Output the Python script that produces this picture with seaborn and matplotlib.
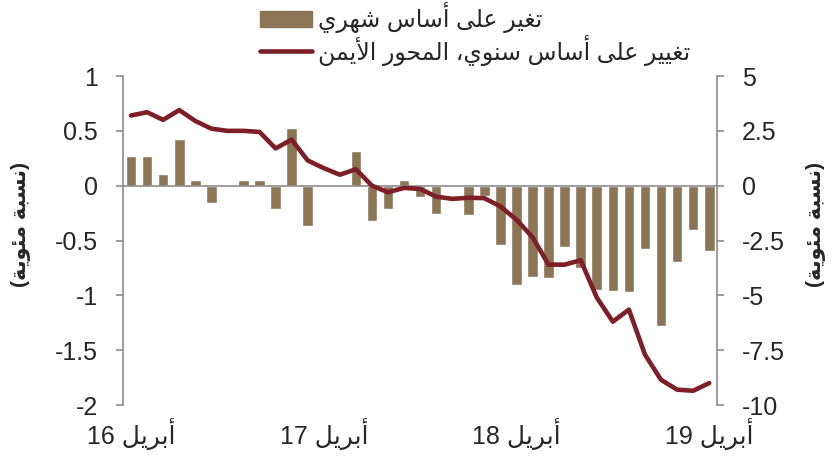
import re
import numpy as np
import pandas as pd
import seaborn as sns
import matplotlib.pyplot as plt
from matplotlib.patches import Patch
from matplotlib.lines import Line2D

# --- Data ---
months = pd.date_range("2016-04-01", "2019-04-01", freq="MS").strftime("%Y-%m").tolist()
mom_change = [0.27, 0.27, 0.11, 0.43, 0.05, -0.16, 0.0, 0.05, 0.05, -0.21,
              0.53, -0.37, 0.0, 0.0, 0.32, -0.32, -0.21, 0.05, -0.10, -0.26,
              0.0, -0.27, -0.09, -0.54, -0.91, -0.83, -0.84, -0.56, -0.75, -0.95,
              -0.96, -0.97, -0.58, -1.28, -0.70, -0.40, -0.60]
yoy_change = [3.2, 3.35, 3.0, 3.45, 2.95, 2.6, 2.5, 2.5, 2.45, 1.7,
              2.1, 1.15, 0.8, 0.5, 0.75, 0.0, -0.3, -0.1, -0.15, -0.5,
              -0.6, -0.55, -0.57, -0.95, -1.55, -2.35, -3.6, -3.6, -3.4, -5.1,
              -6.2, -5.65, -7.7, -8.85, -9.3, -9.35, -9.0]
tick_months = ["2016-04", "2017-04", "2018-04", "2019-04"]
tick_labels = ["أبريل 16", "أبريل 17", "أبريل 18", "أبريل 19"]
label_mom = "تغير على أساس شهري"
label_yoy = "تغيير على أساس سنوي، المحور الأيمن"
ylabel = "(نسبة مئوية)"

left_ticks = [1, 0.5, 0, -0.5, -1, -1.5, -2]
right_ticks = [5, 2.5, 0, -2.5, -5, -7.5, -10]

bar_color = "#8B7555"
line_color = "#7E1E26"
axis_color = "#8C8C8C"

# --- tiny Arabic shaper: matplotlib has no shaping / bidi of its own ---
FORMS = {
    "\u0627": ("\uFE8D", "\uFE8E", None, None),
    "\u0623": ("\uFE83", "\uFE84", None, None),
    "\u0628": ("\uFE8F", "\uFE90", "\uFE91", "\uFE92"),
    "\u0629": ("\uFE93", "\uFE94", None, None),
    "\u062A": ("\uFE95", "\uFE96", "\uFE97", "\uFE98"),
    "\u062D": ("\uFEA1", "\uFEA2", "\uFEA3", "\uFEA4"),
    "\u0631": ("\uFEAD", "\uFEAE", None, None),
    "\u0633": ("\uFEB1", "\uFEB2", "\uFEB3", "\uFEB4"),
    "\u0634": ("\uFEB5", "\uFEB6", "\uFEB7", "\uFEB8"),
    "\u0639": ("\uFEC9", "\uFECA", "\uFECB", "\uFECC"),
    "\u063A": ("\uFECD", "\uFECE", "\uFECF", "\uFED0"),
    "\u0644": ("\uFEDD", "\uFEDE", "\uFEDF", "\uFEE0"),
    "\u0645": ("\uFEE1", "\uFEE2", "\uFEE3", "\uFEE4"),
    "\u0646": ("\uFEE5", "\uFEE6", "\uFEE7", "\uFEE8"),
    "\u0647": ("\uFEE9", "\uFEEA", "\uFEEB", "\uFEEC"),
    "\u0648": ("\uFEED", "\uFEEE", None, None),
    "\u0649": ("\uFEEF", "\uFEF0", "\uFBE8", "\uFBE9"),
    "\u064A": ("\uFEF1", "\uFEF2", "\uFEF3", "\uFEF4"),
    "\u0626": ("\uFE89", "\uFE8A", "\uFE8B", "\uFE8C"),
    "LA": ("\uFEFB", "\uFEFC", None, None),
    "LAH": ("\uFEF7", "\uFEF8", None, None),
}


def ar(text):
    toks = []
    i = 0
    while i < len(text):
        c = text[i]
        if c == "\u0644" and i + 1 < len(text) and text[i + 1] in ("\u0627", "\u0623"):
            toks.append("LA" if text[i + 1] == "\u0627" else "LAH")
            i += 2
            continue
        toks.append(c)
        i += 1
    out = []
    for k, t in enumerate(toks):
        if t not in FORMS:
            out.append(t)
            continue
        prev = toks[k - 1] if k > 0 else None
        nxt = toks[k + 1] if k + 1 < len(toks) else None
        p = prev in FORMS and FORMS[prev][2] is not None
        n = FORMS[t][2] is not None and nxt in FORMS
        idx = 3 if (p and n) else 1 if p else 2 if n else 0
        out.append(FORMS[t][idx])
    vis = "".join(out)[::-1]
    vis = re.sub(r"[0-9.]+", lambda m: m.group(0)[::-1], vis)
    return vis.translate(str.maketrans("()", ")("))


df = pd.DataFrame({"month": months, "mom": mom_change, "yoy": yoy_change})
df["pos"] = range(len(df))

# --- Plot ---
sns.set_style("white")
plt.rcParams["font.family"] = ["Liberation Sans", "DejaVu Sans"]

fig = plt.figure(figsize=(8.34, 4.58), dpi=100)
ax = fig.add_axes([0.1475, 0.1157, 0.7125, 0.7183])
ax2 = ax.twinx()

sns.barplot(x="month", y="mom", data=df, order=months, color=bar_color,
            saturation=1, width=0.66, ax=ax)
sns.lineplot(x="pos", y="yoy", data=df, color=line_color, lw=3.3, ax=ax2)

ax.set_xlim(-0.5, len(months) - 0.5)
ax.set_ylim(-2, 1)
ax2.set_ylim(-10, 5)
ax.set_yticks(left_ticks)
ax.set_yticklabels([f"{v:g}" for v in left_ticks])
ax2.set_yticks(right_ticks)
ax2.set_yticklabels([f"{v:g}" for v in right_ticks])

# x axis sits on the zero line, ticks between years
ax.spines["bottom"].set_position(("data", 0))
ax.spines["top"].set_visible(False)
ax.spines["right"].set_visible(False)
for side in ["top", "bottom", "left"]:
    ax2.spines[side].set_visible(False)
for sp in [ax.spines["left"], ax.spines["bottom"], ax2.spines["right"]]:
    sp.set_color(axis_color)
    sp.set_linewidth(1.2)
boundaries = [months.index(m) - 0.5 for m in tick_months[1:]]
ax.set_xticks(boundaries)
ax.tick_params(axis="x", direction="out", length=5, width=1.2, color=axis_color,
               labelbottom=False)
ax.tick_params(axis="y", direction="out", length=5, width=1.2, color=axis_color,
               labelsize=18, pad=13)
ax2.tick_params(axis="y", direction="out", length=5, width=1.2, color=axis_color,
                labelsize=18, pad=13)

sec = ax.secondary_xaxis("bottom")
sec.set_xticks([months.index(m) for m in tick_months], [ar(t) for t in tick_labels])
sec.tick_params(length=0, labelsize=18, pad=9)
sec.spines["bottom"].set_visible(False)

ax.set_xlabel("")
ax2.set_xlabel("")
ax.set_ylabel(ar(ylabel), fontsize=15, fontweight="bold")
ax2.set_ylabel(ar(ylabel), fontsize=15, fontweight="bold", rotation=90)
ax.yaxis.set_label_coords(-0.155, 0.55)
ax2.yaxis.set_label_coords(1.15, 0.55)

handles = [Patch(color=bar_color), Line2D([], [], color=line_color, lw=3.3)]
fig.legend(handles, [ar(label_mom), ar(label_yoy)], loc="upper left",
           bbox_to_anchor=(0.309, 1.0), frameon=False, fontsize=17,
           handlelength=2.2, handletextpad=0.25, labelspacing=0.05,
           borderpad=0.1, borderaxespad=0)

fig.savefig("out.png", dpi=100)
plt.close(fig)
